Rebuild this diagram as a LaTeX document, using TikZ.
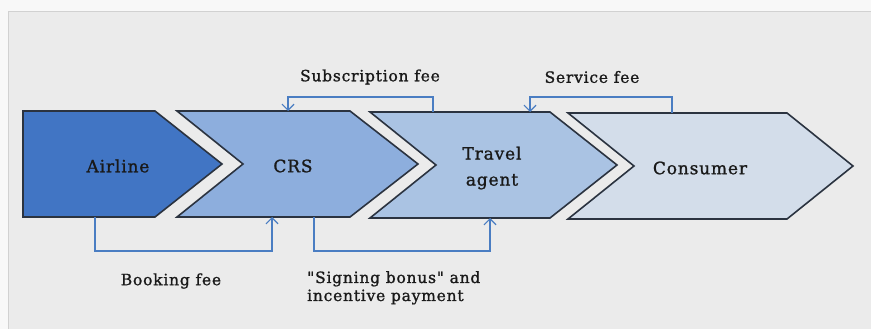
\documentclass[tikz,border=0pt]{standalone}
\usepackage{fontspec}
\usetikzlibrary{arrows.meta}
\newfontfamily\lblfont[LetterSpace=5,FakeBold=1.2]{DejaVu Serif}
\definecolor{paper}{HTML}{F8F8F8}
\definecolor{panel}{HTML}{EBEBEB}
\definecolor{airblue}{HTML}{4175C4}
\definecolor{crsblue}{HTML}{8DAEDD}
\definecolor{tablue}{HTML}{AAC3E3}
\definecolor{conblue}{HTML}{D3DDEA}
\definecolor{feeblue}{HTML}{4A7DC2}
\definecolor{edge}{HTML}{2B3340}
\tikzset{
  chevron/.style={draw=edge, line width=1.6pt, line join=miter},
  boxtext/.style={font=\lblfont\fontsize{17}{26}\selectfont, text=black!90, align=center},
  feetext/.style={font=\lblfont\fontsize{15.5}{18}\selectfont, text=black!90, align=left},
  feeline/.style={draw=feeblue, line width=1.2pt, ->, >={Straight Barb[length=6pt,width=12pt]}}
}
\begin{document}
\begin{tikzpicture}[x=1pt,y=-1pt]
    \useasboundingbox (0,0) rectangle (871,329);
    \fill[paper] (0,0) rectangle (871,329);
    \fill[panel] (8,12) rectangle (871,329);
    \draw[black!18, line width=1pt] (8,329) -- (8,12) -- (871,12);
    % chevrons
    \draw[chevron, fill=airblue] (23,111) -- (155,111) -- (222,164) -- (155,217) -- (23,217) -- cycle;
    \draw[chevron, fill=crsblue] (177,111) -- (350,111) -- (418,164) -- (350,217) -- (177,217) -- (243,164) -- cycle;
    \draw[chevron, fill=tablue] (370,112) -- (550,112) -- (617,165) -- (550,218) -- (370,218) -- (436,165) -- cycle;
    \draw[chevron, fill=conblue] (568,113) -- (787,113) -- (853,166) -- (787,219) -- (568,219) -- (634,166) -- cycle;
    \node[boxtext] (airline) at (118,166) {Airline};
    \node[boxtext] (crs) at (293,166) {CRS};
    \node[boxtext] (agent) at (492,168) {Travel\\agent};
    \node[boxtext] (consumer) at (700,168) {Consumer};
    % attachment points
    \coordinate (crstop) at (288,111);
    \coordinate (agenttopA) at (433,112);
    \coordinate (agenttopB) at (530,112);
    \coordinate (contop) at (672,113);
    \coordinate (airbot) at (95,217);
    \coordinate (crsbotA) at (272,217);
    \coordinate (crsbotB) at (314,217);
    \coordinate (agentbot) at (490,218);
    % payments
    \draw[feeline] (agenttopA) -- ++(0,-15) -| (crstop);
    \draw[feeline] (contop) -- ++(0,-16) -| (agenttopB);
    \draw[feeline] (airbot) -- ++(0,34) -| (crsbotA);
    \draw[feeline] (crsbotB) -- ++(0,34) -| (agentbot);
    \node[feetext] (subfee) at (370,77) {Subscription fee};
    \node[feetext] (servfee) at (592,77) {Service fee};
    \node[feetext] (bookfee) at (171,281) {Booking fee};
    \node[feetext, anchor=north west, inner sep=0pt] (bonus) at (307,271) {"Signing bonus" and\\incentive payment};
\end{tikzpicture}
\end{document}
